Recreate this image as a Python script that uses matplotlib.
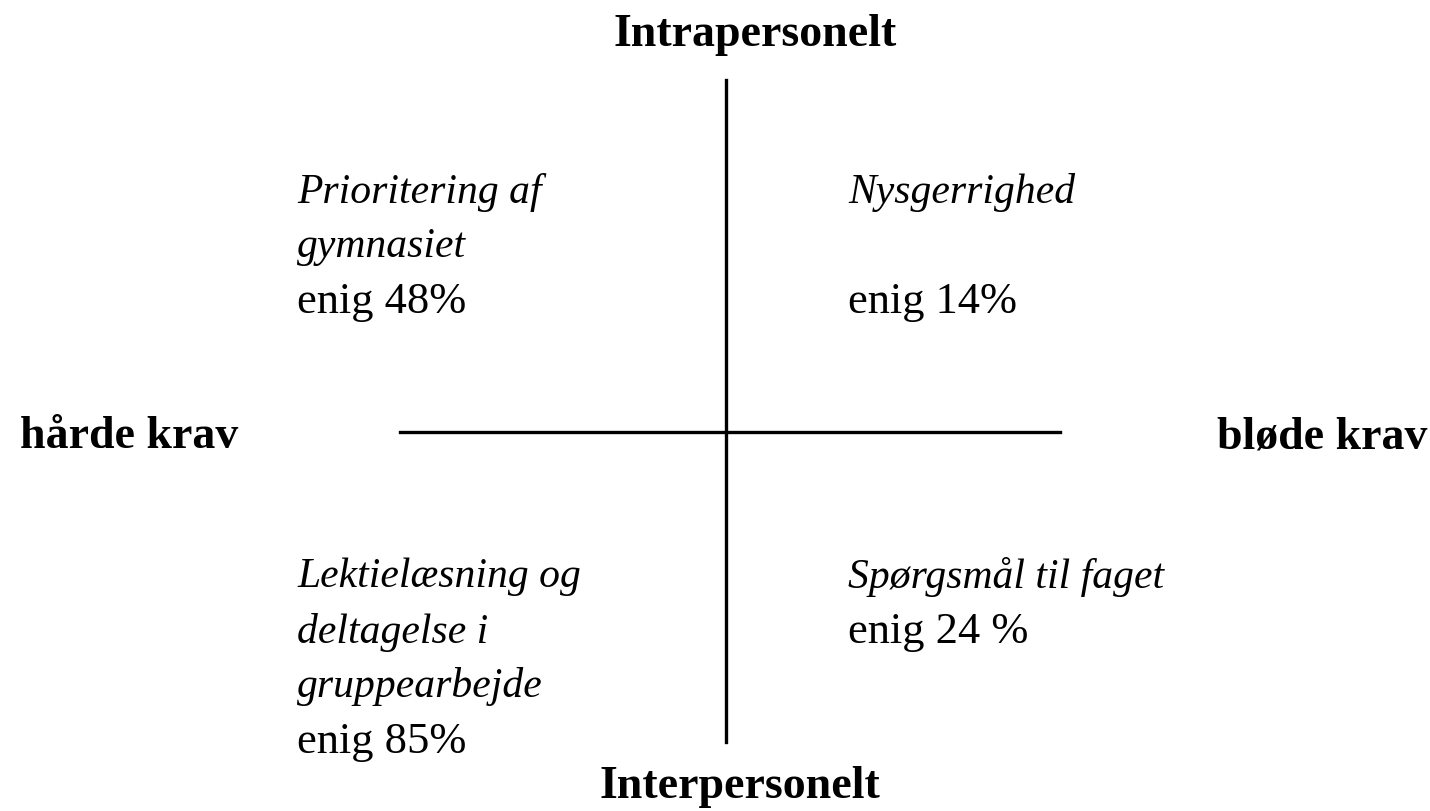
import matplotlib.pyplot as plt

# quadrant content
axis_top = 'Intrapersonelt'
axis_bottom = 'Interpersonelt'
axis_left = 'hårde krav'
axis_right = 'bløde krav'

quad_titles = [
    ['Prioritering af', 'gymnasiet'],
    ['Nysgerrighed', ''],
    ['Lektielæsning og', 'deltagelse i', 'gruppearbejde'],
    ['Spørgsmål til faget'],
]
agree_pct = [48, 14, 85, 24]
pct_fmt = ['enig {}%', 'enig {}%', 'enig {}%', 'enig {} %']
quad_pos = [(297, 192), (848, 192), (297, 577), (848, 577)]

plt.rcParams['font.family'] = ['Liberation Serif', 'DejaVu Serif']

fig = plt.figure(figsize=(14.30, 8.11), dpi=100)
ax = fig.add_axes([0, 0, 1, 1])
ax.set_xlim(0, 1430)
ax.set_ylim(811, 0)
ax.axis('off')

# the cross
ax.plot([726, 726], [80, 742], color='black', lw=2.4)
ax.plot([400, 1060], [432, 432], color='black', lw=2.4)

bold = dict(fontsize=33, fontweight='bold', color='black')
ax.text(755, 35, axis_top, ha='center', va='center', **bold)
ax.text(740, 787, axis_bottom, ha='center', va='center', **bold)
ax.text(20, 437, axis_left, ha='left', va='center', **bold)
ax.text(1427, 437, axis_right, ha='right', va='center', **bold)

step = 55
for lines, pct, fmt, (x, y) in zip(quad_titles, agree_pct, pct_fmt, quad_pos):
    for i, ln in enumerate(lines):
        ax.text(x, y + i * step, ln, ha='left', va='center',
                fontsize=30, style='italic')
    ax.text(x, y + len(lines) * step, fmt.format(pct), ha='left',
            va='center', fontsize=32)

fig.savefig('out.png', dpi=100)
